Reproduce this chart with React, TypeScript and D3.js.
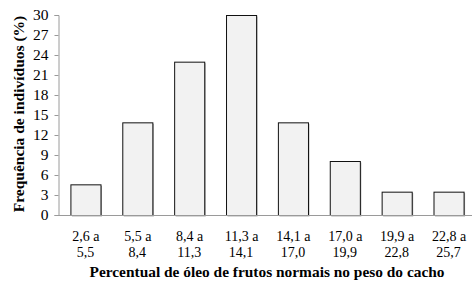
import { useEffect, useRef } from "react";
import * as d3 from "d3";

// classes of oil content (two lines each) and frequency (%)
const classLow = ["2,6 a", "5,5 a", "8,4 a", "11,3 a", "14,1 a", "17,0 a", "19,9 a", "22,8 a"];
const classHigh = ["5,5", "8,4", "11,3", "14,1", "17,0", "19,9", "22,8", "25,7"];
const frequency = [4.6, 13.9, 23.0, 30.0, 13.9, 8.1, 3.5, 3.5];
const yTicks = [0, 3, 6, 9, 12, 15, 18, 21, 24, 27, 30];

const W = 473;
const H = 287;
const FONT = "'Liberation Serif', 'Times New Roman', serif";

export default function App() {
  const ref = useRef<SVGSVGElement | null>(null);

  useEffect(() => {
    if (!ref.current) return;
    const svg = d3.select(ref.current);
    svg.selectAll("*").remove();

    const x = d3
      .scaleBand<number>()
      .domain(d3.range(frequency.length))
      .range([59, 475])
      .paddingInner(0.42)
      .paddingOuter(0.22);
    const y = d3.scaleLinear().domain([0, 30]).range([215, 15]);

    // bars with a light shadow
    const bars = svg.append("g");
    bars
      .selectAll("rect.shadow")
      .data(frequency)
      .join("rect")
      .attr("class", "shadow")
      .attr("x", (_, i) => x(i)! + 1.5)
      .attr("y", (d) => y(d) + 1.5)
      .attr("width", x.bandwidth())
      .attr("height", (d) => y(0) - y(d))
      .attr("fill", "#b0b0b0");
    bars
      .selectAll("rect.bar")
      .data(frequency)
      .join("rect")
      .attr("class", "bar")
      .attr("x", (_, i) => x(i)! + 0.5)
      .attr("y", (d) => y(d) + 0.5)
      .attr("width", x.bandwidth())
      .attr("height", (d) => y(0) - y(d))
      .attr("fill", "#f2f2f2")
      .attr("stroke", "#111")
      .attr("stroke-width", 1);

    // y axis
    const yAxis = svg
      .append("g")
      .attr("transform", "translate(58.5,0)")
      .call(d3.axisLeft(y).tickValues(yTicks).tickSize(4).tickPadding(6));
    yAxis.select(".domain").attr("stroke", "#9a9a9a");
    yAxis.selectAll(".tick line").attr("stroke", "#9a9a9a");
    yAxis
      .selectAll(".tick text")
      .attr("fill", "#000")
      .style("font-family", FONT)
      .style("font-size", "15.5px");

    // x baseline
    svg
      .append("line")
      .attr("x1", 58)
      .attr("x2", 472)
      .attr("y1", y(0) + 0.5)
      .attr("y2", y(0) + 0.5)
      .attr("stroke", "#9a9a9a");

    // x category labels
    const labels = svg
      .append("g")
      .style("font-family", FONT)
      .style("font-size", "14px")
      .attr("text-anchor", "middle");
    labels
      .selectAll("text.low")
      .data(classLow)
      .join("text")
      .attr("class", "low")
      .attr("x", (_, i) => x(i)! + x.bandwidth() / 2 + 0.5)
      .attr("y", 241)
      .text((d) => d);
    labels
      .selectAll("text.high")
      .data(classHigh)
      .join("text")
      .attr("class", "high")
      .attr("x", (_, i) => x(i)! + x.bandwidth() / 2)
      .attr("y", 257)
      .text((d) => d);

    // axis titles
    svg
      .append("text")
      .attr("x", 267)
      .attr("y", 277)
      .attr("text-anchor", "middle")
      .attr("textLength", 355)
      .attr("lengthAdjust", "spacingAndGlyphs")
      .style("font-family", FONT)
      .style("font-size", "15px")
      .style("font-weight", "bold")
      .text("Percentual de óleo de frutos normais no peso do cacho");

    svg
      .append("text")
      .attr("transform", "translate(24,114) rotate(-90)")
      .attr("text-anchor", "middle")
      .style("font-family", FONT)
      .style("font-size", "15.5px")
      .style("font-weight", "bold")
      .text("Frequência de indivíduos (%)");
  }, []);

  return (
    <svg
      ref={ref}
      width={W}
      height={H}
      style={{ position: "absolute", left: 0, top: 0, background: "#fff" }}
    />
  );
}
